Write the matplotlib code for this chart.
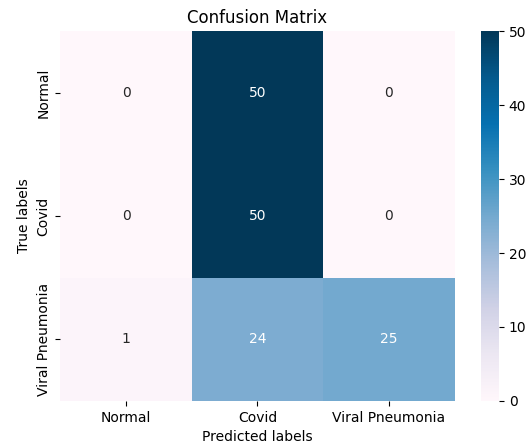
import matplotlib
matplotlib.use("Agg")
import matplotlib.pyplot as plt
import seaborn as sns
import numpy as np

labels = ["Normal", "Covid", "Viral Pneumonia"]
cm = np.array([
    [0, 50, 0],
    [0, 50, 0],
    [1, 24, 25],
])

fig = plt.figure(figsize=(5.27, 4.45), dpi=100)
ax = fig.add_axes([0.1145, 0.099, 0.748, 0.831])
cax = fig.add_axes([0.913, 0.099, 0.034, 0.831])

sns.heatmap(cm, annot=True, fmt="d", cmap="PuBu", ax=ax, cbar_ax=cax,
            xticklabels=labels, yticklabels=labels)

ax.set_title("Confusion Matrix")
ax.set_xlabel("Predicted labels")
ax.set_ylabel("True labels")

fig.savefig("out.png", dpi=100)
